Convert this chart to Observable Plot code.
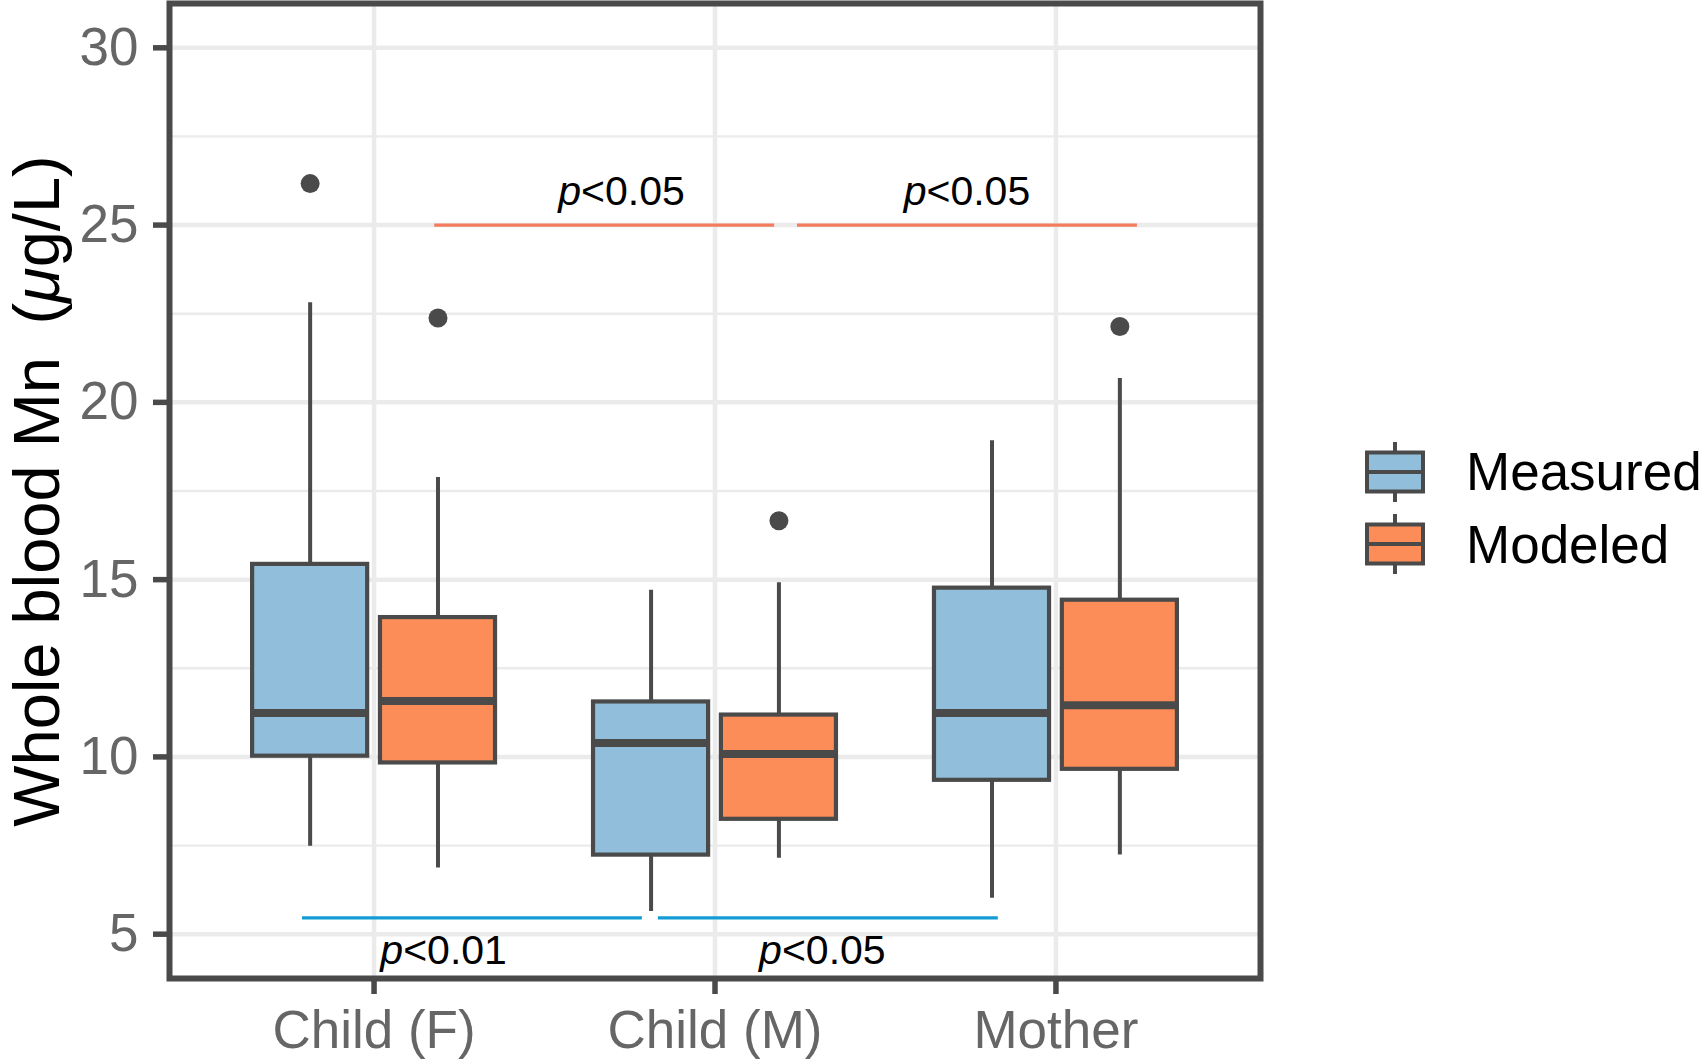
<!DOCTYPE html>
<html>
<head>
<meta charset="utf-8">
<script src="https://cdn.jsdelivr.net/npm/d3@7"></script>
<script src="https://cdn.jsdelivr.net/npm/@observablehq/plot@0.6"></script>
<style>
  body { margin: 0; background: #fff; font-family: "Liberation Sans", Arial, Helvetica, sans-serif; }
  #wrap { position: relative; width: 1702px; height: 1059px; overflow: hidden; }
  #chart { position: absolute; left: 0; top: 0; }
  #legend { position: absolute; left: 1365px; top: 435.7px; }
  .item { display: flex; align-items: center; height: 72.3px; }
  .item span { margin-left: 41px; font-size: 53px; color: #000; white-space: nowrap; }
  .item svg { display: block; }
</style>
</head>
<body>
<div id="wrap">
  <div id="chart"></div>
  <div id="legend"></div>
</div>
<script>
// ---- Data ----
const categories = ["Child (F)", "Child (M)", "Mother"];
const groups = ["Measured", "Modeled"];
const groupColors = ["#91BFDB", "#FC8D59"];

const measuredLow    = [7.48, 5.64, 6.01];
const measuredQ1     = [10.02, 7.23, 9.34];
const measuredMedian = [11.24, 10.39, 11.24];
const measuredQ3     = [15.43, 11.55, 14.76];
const measuredHigh   = [22.81, 14.70, 18.92];

const modeledLow    = [6.87, 7.14, 7.23];
const modeledQ1     = [9.83, 8.24, 9.65];
const modeledMedian = [11.58, 10.08, 11.46];
const modeledQ3     = [13.93, 11.18, 14.42];
const modeledHigh   = [17.88, 14.91, 20.67];

const outlierCategory = ["Child (F)", "Child (F)", "Child (M)", "Mother"];
const outlierGroup    = ["Measured", "Modeled", "Modeled", "Modeled"];
const outlierValue    = [26.17, 22.38, 16.66, 22.14];

// significance brackets (x in category-index units, y in µg/L)
const modeledSigX1 = [0.178, 1.242];
const modeledSigX2 = [1.175, 2.239];
const modeledSigY  = [25, 25];
const measuredSigX1 = [-0.21, 0.834];
const measuredSigX2 = [0.787, 1.831];
const measuredSigY  = [5.46, 5.46];

const sigLabelText = ["p<0.05", "p<0.05", "p<0.01", "p<0.05"];
const sigLabelX    = [0.726, 1.739, 0.204, 1.315];
const sigLabelY    = [25.93, 25.93, 4.54, 4.54];

const yMajorTicks = [5, 10, 15, 20, 25, 30];
const yMinorTicks = [7.5, 12.5, 17.5, 22.5, 27.5];
const yTitle = "Whole blood Mn\u2002(\u03BCg/L)";

// ---- Build tables ----
const dodge = 0.375;          // each group's slot width (0.75 / 2)
const boxHalf = 0.3375 / 2;   // box width after padding
const offsetOf = g => (groups.indexOf(g) - 0.5) * dodge;

const stats = {
  Measured: [measuredLow, measuredQ1, measuredMedian, measuredQ3, measuredHigh],
  Modeled:  [modeledLow, modeledQ1, modeledMedian, modeledQ3, modeledHigh]
};
const rows = [];
groups.forEach(g => {
  const [lo, q1, med, q3, hi] = stats[g];
  categories.forEach((c, i) => {
    rows.push({category: c, group: g, pos: i + offsetOf(g), low: lo[i], q1: q1[i], median: med[i], q3: q3[i], high: hi[i]});
  });
});
const outliers = outlierValue.map((v, k) => ({
  pos: categories.indexOf(outlierCategory[k]) + offsetOf(outlierGroup[k]),
  value: v
}));
const modeledSig = modeledSigY.map((y, k) => ({x1: modeledSigX1[k], x2: modeledSigX2[k], y}));
const measuredSig = measuredSigY.map((y, k) => ({x1: measuredSigX1[k], x2: measuredSigX2[k], y}));
const sigLabels = sigLabelText.map((t, k) => ({text: t, x: sigLabelX[k], y: sigLabelY[k]}));

const ink = "#4a4a4a";
const gridColor = "#ebebeb";

const chart = Plot.plot({
  width: 1300,
  height: 1059,
  marginLeft: 169,
  marginRight: 40,
  marginTop: 3,
  marginBottom: 81,
  style: {fontFamily: "'Liberation Sans', Arial, Helvetica, sans-serif", background: "#fff", overflow: "visible"},
  x: {type: "linear", domain: [-0.6, categories.length - 1 + 0.6]},
  y: {type: "linear", domain: [3.75, 31.25]},
  color: {domain: groups, range: groupColors},
  marks: [
    Plot.ruleY(yMinorTicks, {y: d => d, stroke: gridColor, strokeWidth: 2.3}),
    Plot.ruleY(yMajorTicks, {y: d => d, stroke: gridColor, strokeWidth: 4.5}),
    Plot.ruleX(categories.map((c, i) => i), {x: d => d, stroke: gridColor, strokeWidth: 4.5}),
    // whiskers
    Plot.ruleX(rows, {x: "pos", y1: "low", y2: "high", stroke: ink, strokeWidth: 4}),
    // boxes
    Plot.rect(rows, {x1: d => d.pos - boxHalf, x2: d => d.pos + boxHalf, y1: "q1", y2: "q3", fill: "group", stroke: ink, strokeWidth: 4.2, strokeLinejoin: "miter"}),
    // medians
    Plot.ruleY(rows, {y: "median", x1: d => d.pos - boxHalf, x2: d => d.pos + boxHalf, stroke: ink, strokeWidth: 8}),
    // outliers
    Plot.dot(outliers, {x: "pos", y: "value", r: 9.5, fill: ink, stroke: "none"}),
    // significance brackets
    Plot.ruleY(modeledSig, {x1: "x1", x2: "x2", y: "y", stroke: "#F47C5E", strokeWidth: 3.4}),
    Plot.ruleY(measuredSig, {x1: "x1", x2: "x2", y: "y", stroke: "#139BD6", strokeWidth: 3.4}),
    Plot.text(sigLabels, {x: "x", y: "y", text: "text", fontSize: 41, fill: "#000"}),
    // panel border
    Plot.frame({stroke: ink, strokeWidth: 6}),
    // axes
    Plot.axisY({ticks: yMajorTicks, tickFormat: d => String(d), tickSize: 16, tickPadding: 15, fontSize: 53, stroke: ink, strokeWidth: 5.5, fill: "#666", label: null}),
    Plot.axisX({ticks: categories.map((c, i) => i), tickFormat: i => categories[i], tickSize: 16, tickPadding: 16, fontSize: 53, stroke: ink, strokeWidth: 5.5, fill: "#666", label: null}),
    Plot.text([yTitle], {frameAnchor: "left", textAnchor: "middle", dx: -131, rotate: -90, text: d => d, fontSize: 65, fill: "#000"})
  ]
});
document.getElementById("chart").appendChild(chart);

// italic p and mu
const NS = "http://www.w3.org/2000/svg";
chart.querySelectorAll("text").forEach(t => {
  const s = t.textContent;
  if (s.startsWith("p<")) {
    t.textContent = "";
    const a = document.createElementNS(NS, "tspan");
    a.setAttribute("font-style", "italic");
    a.textContent = "p";
    const b = document.createElementNS(NS, "tspan");
    b.textContent = s.slice(1);
    t.appendChild(a); t.appendChild(b);
  } else if (s === yTitle) {
    const i = s.indexOf("\u03BC");
    t.textContent = "";
    const a = document.createElementNS(NS, "tspan"); a.textContent = s.slice(0, i);
    const b = document.createElementNS(NS, "tspan"); b.setAttribute("font-style", "italic"); b.textContent = "\u03BC";
    const c = document.createElementNS(NS, "tspan"); c.textContent = s.slice(i + 1);
    t.appendChild(a); t.appendChild(b); t.appendChild(c);
  }
});

// legend
const legend = document.getElementById("legend");
groups.forEach((g, k) => {
  const item = document.createElement("div");
  item.className = "item";
  item.innerHTML =
    `<svg width="60" height="72" viewBox="0 0 60 72">
       <line x1="30" x2="30" y1="6" y2="66" stroke="${ink}" stroke-width="4"/>
       <rect x="2" y="16.5" width="56" height="39" fill="${groupColors[k]}" stroke="${ink}" stroke-width="4"/>
       <line x1="2" x2="58" y1="36" y2="36" stroke="${ink}" stroke-width="4"/>
     </svg><span>${g}</span>`;
  legend.appendChild(item);
});
</script>
</body>
</html>
